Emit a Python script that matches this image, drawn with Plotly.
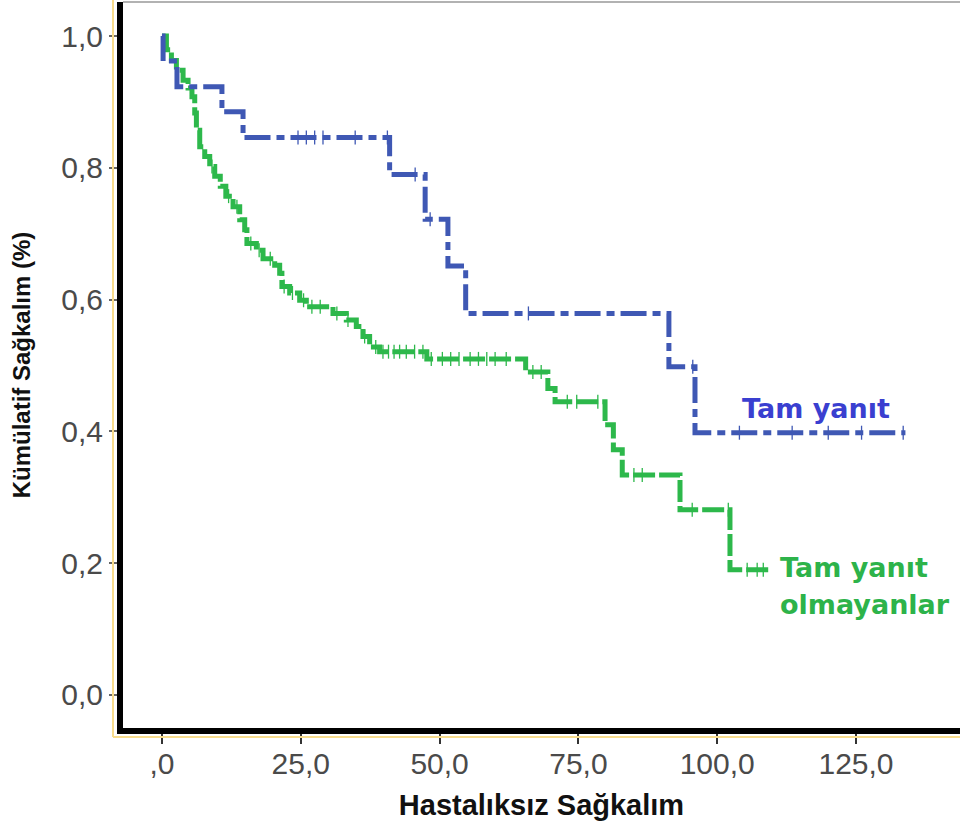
import plotly.graph_objects as go
import numpy as np

# ---- data: Tam yanıt (complete response) ----
blue_times = [0, 0.2, 2.7, 10.8, 14.6, 41.0, 47.4, 51.5, 54.7, 91.3, 96.0]
blue_surv = [1.0, 0.962, 0.923, 0.885, 0.846, 0.790, 0.722, 0.651, 0.579, 0.498, 0.398]
blue_end = 133.9
blue_censor = [24.5, 26.0, 27.5, 29.0, 34.8, 40.6, 45.6, 48.3, 66.0, 95.6, 104.0, 113.5, 120.0, 126.0, 133.5]

# ---- data: Tam yanıt olmayanlar (no complete response) ----
green_times = [0, 0.8, 1.7, 2.6, 3.8, 4.7, 5.4, 5.9, 6.2, 6.8, 7.7, 8.6, 9.5, 10.5,
               11.5, 12.8, 14.0, 14.9, 15.3, 17.0, 18.2, 20.3, 21.2, 21.6, 23.0,
               24.8, 26.0, 30.8, 33.2, 35.0, 36.2, 37.4, 39.2, 47.7, 65.5, 69.5,
               70.8, 79.8, 81.3, 82.9, 93.3, 102.3]
green_surv = [1.0, 0.979, 0.963, 0.948, 0.933, 0.921, 0.908, 0.883, 0.857, 0.832,
              0.817, 0.802, 0.787, 0.772, 0.757, 0.741, 0.721, 0.706, 0.685, 0.675,
              0.662, 0.652, 0.640, 0.620, 0.610, 0.599, 0.589, 0.579, 0.569, 0.559,
              0.544, 0.528, 0.521, 0.510, 0.490, 0.465, 0.445, 0.410, 0.372, 0.334,
              0.281, 0.190]
green_end = 109.2
green_censor = [9.0, 12.0, 13.5, 16.0, 17.5, 19.5, 22.0, 23.5, 25.5, 27.0, 28.5,
                31.5, 33.5, 36.5, 38.5, 39.8, 40.8, 41.8, 42.8, 44.0, 45.5, 47.0,
                48.5, 50.5, 52.0, 53.5, 55.5, 57.0, 58.5, 60.0, 62.0, 66.8, 68.3,
                73.0, 74.7, 78.5, 85.0, 86.5, 95.5, 102.0, 105.4, 107.2, 108.3]

x_tickvals = [0, 25, 50, 75, 100, 125]
x_ticktext = [",0", "25,0", "50,0", "75,0", "100,0", "125,0"]
y_tickvals = [0, 0.2, 0.4, 0.6, 0.8, 1.0]
y_ticktext = ["0,0", "0,2", "0,4", "0,6", "0,8", "1,0"]

BLUE = "#3F58B4"
GREEN = "#2DB84B"


def step_xy(times, surv, end):
    return list(times) + [end], list(surv) + [surv[-1]]


def surv_at(times, surv, t):
    idx = np.searchsorted(np.array(times), t, side="right") - 1
    return surv[max(idx, 0)]


fig = go.Figure()

bx, by = step_xy(blue_times, blue_surv, blue_end)
gx, gy = step_xy(green_times, green_surv, green_end)

fig.add_trace(go.Scatter(x=gx, y=gy, mode="lines", line=dict(color=GREEN, width=5, shape="hv", dash="22px,4px"),
                         showlegend=False, hoverinfo="skip"))
fig.add_trace(go.Scatter(x=green_censor, y=[surv_at(green_times, green_surv, t) for t in green_censor],
                         mode="markers", marker=dict(symbol="line-ns-open", size=10, color=GREEN,
                                                     line=dict(color=GREEN, width=1.3)),
                         showlegend=False, hoverinfo="skip"))
fig.add_trace(go.Scatter(x=bx, y=by, mode="lines", line=dict(color=BLUE, width=5, shape="hv", dash="26px,6px,8px,6px"),
                         showlegend=False, hoverinfo="skip"))
fig.add_trace(go.Scatter(x=blue_censor, y=[surv_at(blue_times, blue_surv, t) for t in blue_censor],
                         mode="markers", marker=dict(symbol="line-ns-open", size=10, color=BLUE,
                                                     line=dict(color=BLUE, width=1.3)),
                         showlegend=False, hoverinfo="skip"))

# layout geometry (pixels)
W, H = 960, 834
ML, MR, MT, MB = 123, 0, 2, 106
pw, ph = W - ML - MR, H - MT - MB


def px_to_paper_x(px):
    return (px - ML) / pw


def px_to_paper_y(py):
    return (H - MB - py) / ph


fig.update_layout(
    width=W, height=H,
    margin=dict(l=ML, r=MR, t=MT, b=MB, pad=0),
    paper_bgcolor="white", plot_bgcolor="white",
    xaxis=dict(range=[-7.02, 143.73], tickvals=x_tickvals, ticktext=x_ticktext,
               showgrid=False, zeroline=False, showline=True, linecolor="black", linewidth=6,
               ticks="outside", ticklen=10, tickwidth=2, tickcolor="#333", ticklabelstandoff=-6,
               tickfont=dict(family="Liberation Sans, Arial", size=30, color="#4a4a4a"),
               title=dict(text="<b>Hastalıksız Sağkalım</b>", standoff=18,
                          font=dict(family="Liberation Sans, Arial", size=29, color="#111"))),
    yaxis=dict(range=[-0.0501, 1.0516], tickvals=y_tickvals, ticktext=y_ticktext,
               showgrid=False, zeroline=False, showline=True, linecolor="black", linewidth=6,
               ticks="outside", ticklen=8, tickwidth=2, tickcolor="#666",
               tickfont=dict(family="Liberation Sans, Arial", size=30, color="#4a4a4a"),
               title=dict(text="<b>Kümülatif Sağkalım (%)</b>", standoff=26,
                          font=dict(family="Liberation Sans, Arial", size=24, color="#111"))),
    shapes=[
        dict(type="line", xref="paper", yref="paper", x0=px_to_paper_x(113), x1=px_to_paper_x(113),
             y0=px_to_paper_y(737), y1=px_to_paper_y(0), line=dict(color="#F8DC8C", width=2)),
        dict(type="line", xref="paper", yref="paper", x0=px_to_paper_x(113), x1=1.0,
             y0=px_to_paper_y(737), y1=px_to_paper_y(737), line=dict(color="#F8DC8C", width=2)),
        dict(type="line", xref="paper", yref="paper", x0=0, x1=1.0, y0=1.0, y1=1.0,
             line=dict(color="#999999", width=1.5)),
    ],
    annotations=[
        dict(x=104.1, y=0.4355, xref="x", yref="y", text="<b>Tam yanıt</b>", showarrow=False,
             xanchor="left", yanchor="middle", font=dict(family="DejaVu Sans", size=27, color="#3A3FD0")),
        dict(x=111.0, y=0.194, xref="x", yref="y", text="<b>Tam yanıt</b>", showarrow=False,
             xanchor="left", yanchor="middle", font=dict(family="DejaVu Sans", size=27, color="#2DB34A")),
        dict(x=111.0, y=0.1366, xref="x", yref="y", text="<b>olmayanlar</b>", showarrow=False,
             xanchor="left", yanchor="middle", font=dict(family="DejaVu Sans", size=27, color="#2DB34A")),
    ],
)

fig.write_html("out.html", config={"displayModeBar": False},
               post_script="document.body.style.margin='0';")
